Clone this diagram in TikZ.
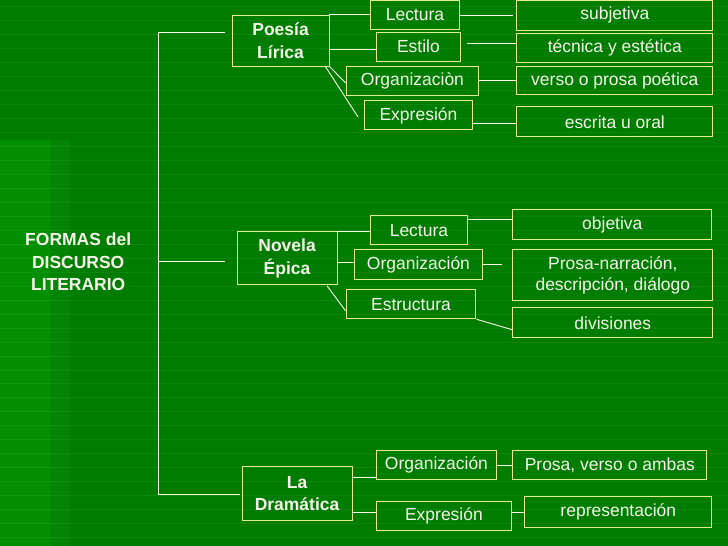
\documentclass[tikz,border=0pt]{standalone}
\usepackage{fontspec}
\setmainfont{Liberation Sans}
\begin{document}
\begin{tikzpicture}[x=1pt,y=-1pt,
  bx/.style={draw=boxc,line width=0.9pt,text=txt,inner sep=0pt,font=\fontsize{17.5}{21}\selectfont,align=center},
  hd/.style={bx,font=\bfseries\fontsize{17.5}{22.5}\selectfont},
  ln/.style={draw=white!92!yellow,line width=0.9pt}]
\definecolor{bg}{RGB}{0,125,0}
\definecolor{boxc}{RGB}{225,240,140}
\definecolor{txt}{RGB}{245,245,235}
\fill[bg] (0,0) rectangle (728,546);
\fill[green!55!black!95!white,opacity=0.35] (0,140) rectangle (70,546);
\fill[green!70!black,opacity=0.25] (0,140) rectangle (50,546);
\foreach \y in {6,20,34,48,62,76,90,104,118,132,146,160,174,188,202,216,230,244,258,272,286,300,314,328,342,356,370,384,398,412,426,440,454,468,482,496,510,524,538}
  \draw[white,opacity=0.06,line width=0.5pt] (0,\y) -- (728,\y);
\useasboundingbox (0,0) rectangle (728,546);
\newcommand\bxat[5]{\node[#1,minimum width={#4-#2},minimum height={#5-#3}] (\bxname) at ({(#2+#4)/2},{(#3+#5)/2})}
\node[text=txt,font=\bfseries\fontsize{17.5}{22.5}\selectfont,align=center] (root) at (78,262) {FORMAS del\\DISCURSO\\LITERARIO};
\def\bxname{p}\bxat{hd}{232}{15}{329}{66}{Poesía\\Lírica};
\def\bxname{l1}\bxat{bx}{370}{0}{460}{29}{Lectura};
\def\bxname{e1}\bxat{bx}{376}{32}{461}{61}{Estilo};
\def\bxname{o1}\bxat{bx}{346}{66}{479}{96}{Organizaciòn};
\def\bxname{x1}\bxat{bx}{364}{101}{473}{130}{Expresión};
\def\bxname{s1}\bxat{bx}{517}{0}{713}{30}{subjetiva};
\def\bxname{t1}\bxat{bx}{517}{33}{713}{62}{técnica y estética};
\def\bxname{v1}\bxat{bx}{517}{66}{713}{95}{verso o prosa poética};
\def\bxname{w1}\bxat{bx}{517}{107}{713}{137}{escrita u oral};
\def\bxname{n}\bxat{hd}{237}{232}{337}{285}{Novela\\Épica};
\def\bxname{l2}\bxat{bx}{370}{216}{468}{245}{Lectura};
\def\bxname{o2}\bxat{bx}{354}{250}{483}{280}{Organización};
\def\bxname{r2}\bxat{bx}{346}{290}{476}{319}{Estructura};
\def\bxname{j2}\bxat{bx}{513}{210}{712}{240}{objetiva};
\def\bxname{q2}\bxat{bx}{513}{250}{713}{301}{Prosa-narración,\\descripción, diálogo};
\def\bxname{d2}\bxat{bx}{513}{308}{713}{338}{divisiones};
\def\bxname{m}\bxat{hd}{242}{467}{352}{521}{La\\Dramática};
\def\bxname{o3}\bxat{bx}{376}{451}{497}{480}{Organización};
\def\bxname{x3}\bxat{bx}{376}{502}{512}{531}{Expresión};
\def\bxname{a3}\bxat{bx}{513}{451}{707}{480}{Prosa, verso o ambas};
\def\bxname{r3}\bxat{bx}{525}{497}{712}{528}{representación};
\coordinate (cp) at (225,32); \coordinate (cn) at (225,262); \coordinate (cm) at (240,495);
\draw[ln] (cp) -- (158,32) -- (158,495) -- (cm);
\draw[ln] (158,262) -- (cn);
\draw[ln] (p.north east) -- (l1.west |- p.north);
\draw[ln] (l1.east |- 0,15) -- (513,15);
\draw[ln] (p.east |- 0,49) -- (e1.west |- 0,49);
\draw[ln] (467,43) -- (t1.west |- 0,43);
\draw[ln] (p.south east) -- (o1.west |- 0,83);
\draw[ln] (325,66) -- (358,117);
\draw[ln] (o1.east) -- (v1.west |- o1.east);
\draw[ln] (x1.east |- 0,124) -- (w1.west |- 0,124);
\draw[ln] (n.north east) -- (l2.west |- n.north);
\draw[ln] (l2.east |- 0,220) -- (j2.west |- 0,220);
\draw[ln] (n.east |- 0,263) -- (o2.west |- 0,263);
\draw[ln] (o2.east |- 0,265) -- (502,265);
\draw[ln] (327,286) -- (r2.west |- 0,311);
\draw[ln] (r2.south east) -- (d2.west |- 0,330);
\draw[ln] (m.east |- 0,478) -- (o3.west |- 0,478);
\draw[ln] (m.east |- 0,513) -- (x3.west |- 0,513);
\draw[ln] (o3.east |- 0,466) -- (a3.west |- 0,466);
\draw[ln] (x3.east |- 0,513) -- (r3.west |- 0,513);
\end{tikzpicture}
\end{document}
